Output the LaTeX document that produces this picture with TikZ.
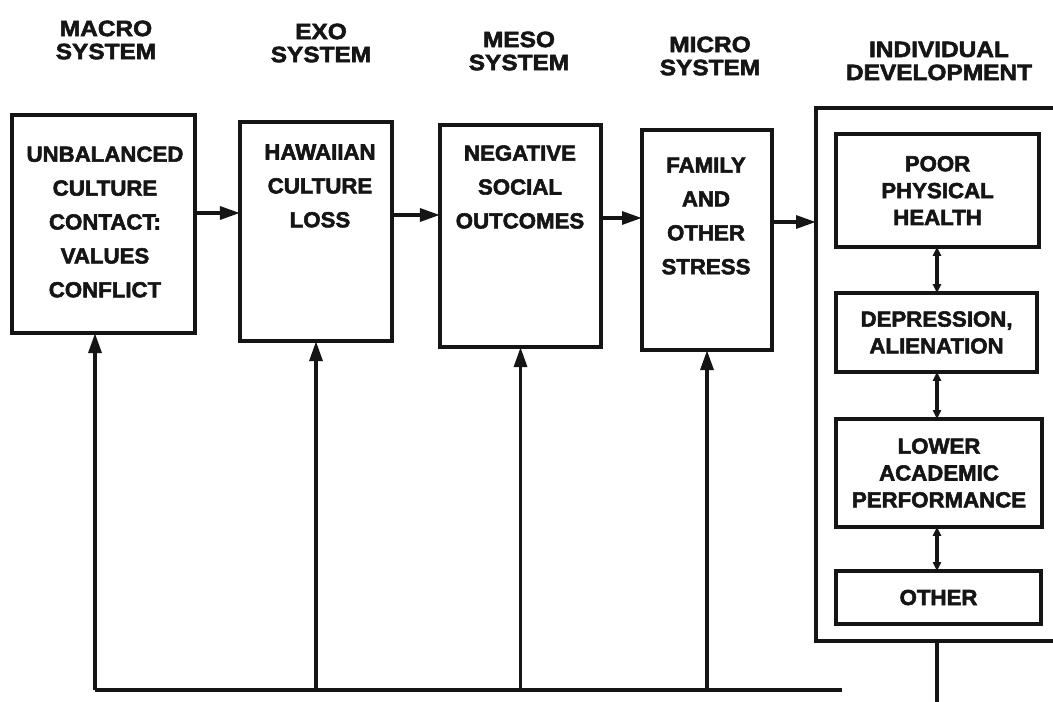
\documentclass[tikz,border=0pt]{standalone}
\usepackage{fontspec}
\usetikzlibrary{arrows.meta,positioning,calc}
\newfontfamily\ecoFont{Liberation Sans}[FakeStretch=1.02,BoldFeatures={FakeBold=2.5}]
\newfontfamily\ecoHeadFont{Liberation Sans}[FakeStretch=1.1,BoldFeatures={FakeBold=2.5}]
\definecolor{ecoInk}{HTML}{151515}
\tikzset{
  eco/box/.style={draw=ecoInk, line width=2.6pt, inner sep=0pt, outer sep=0pt,
    anchor=north west},
  eco/boxtext/.style={font=\ecoFont\bfseries\fontsize{15.5}{24.1}\selectfont,
    text=ecoInk, align=center, inner sep=0pt},
  eco/subtext/.style={font=\ecoFont\bfseries\fontsize{15.5}{19.1}\selectfont,
    text=ecoInk, align=center},
  eco/heading/.style={font=\ecoHeadFont\bfseries\fontsize{15.8}{16.4}\selectfont,
    text=ecoInk, align=center, inner sep=0pt},
  eco/line/.style={draw=ecoInk, line width=2.6pt},
  eco/arrow/.style={eco/line, -{Triangle[length=5mm,width=3.2mm]}},
  eco/both/.style={eco/line, line width=2.2pt,
    {Triangle[length=2.2mm,width=2mm]}-{Triangle[length=2.2mm,width=2mm]}},
}

\begin{document}
\begin{tikzpicture}[x=0.025cm, y=-0.025cm]
\useasboundingbox (0,0) rectangle (1053,702);
\clip (0,0) rectangle (1053,702);

% column headings
\node[eco/heading] (hMacro) at (106,40) {MACRO\\SYSTEM};
\node[eco/heading] (hExo) at (321,43) {EXO\\SYSTEM};
\node[eco/heading] (hMeso) at (519,51) {MESO\\SYSTEM};
\node[eco/heading] (hMicro) at (710,56) {MICRO\\SYSTEM};
\node[eco/heading] (hIndiv) at (939,61) {INDIVIDUAL\\DEVELOPMENT};

% system boxes
\node[eco/box, minimum width=4.575cm, minimum height=5.45cm] (macro) at (12,115) {};
\node[eco/box, minimum width=3.8cm, minimum height=5.475cm] (exo) at (240,122) {};
\node[eco/box, minimum width=4.025cm, minimum height=5.55cm] (meso) at (440,125) {};
\node[eco/box, minimum width=3.25cm, minimum height=5.5cm] (micro) at (642,130) {};
\node[eco/boxtext] (macroText) at (105,222) {UNBALANCED\\CULTURE\\CONTACT:\\VALUES\\CONFLICT};
\node[eco/boxtext] (exoText) at (320,186) {HAWAIIAN\\CULTURE\\LOSS};
\node[eco/boxtext] (mesoText) at (520,187) {NEGATIVE\\SOCIAL\\OUTCOMES};
\node[eco/boxtext] (microText) at (706,216) {FAMILY\\AND\\OTHER\\STRESS};

% individual development
\node[eco/box, minimum width=6.5cm, minimum height=13.325cm] (indiv) at (816,108) {};
\node[eco/box, eco/subtext, minimum width=5.075cm, minimum height=2.825cm] (poor) at (836,134)
  {POOR\\PHYSICAL\\HEALTH};
\node[eco/box, eco/subtext, minimum width=5.025cm, minimum height=1.975cm] (dep) at (836,293)
  {DEPRESSION,\\ALIENATION};
\node[eco/box, eco/subtext, minimum width=5.15cm, minimum height=2.7cm] (lower) at (836,419)
  {LOWER\\ACADEMIC\\PERFORMANCE};
\node[eco/box, eco/subtext, minimum width=5.125cm, minimum height=1.325cm] (other) at (836,571)
  {OTHER};

% forward chain
\draw[eco/arrow] (macro.east |- 0,213) -- (exo.west |- 0,213);
\draw[eco/arrow] (exo.east |- 0,215) -- (meso.west |- 0,215);
\draw[eco/arrow] (meso.east |- 0,218) -- (micro.west |- 0,218);
\draw[eco/arrow] (micro.east |- 0,222) -- (indiv.west |- 0,222);

% feedback
\coordinate (fbL) at (95,690);
\coordinate (fbR) at (842,690);
\coordinate (fbD) at (937,702);
\draw[eco/line] (fbR) -- (fbL);
\draw[eco/arrow] (fbL) -- (fbL |- macro.south);
\foreach \n in {exo,meso,micro}
  \draw[eco/arrow] (\n.south |- fbL) -- (\n.south);
\draw[eco/line] (indiv.south -| fbD) -- (fbD);

\draw[eco/both] (poor.south -| fbD) -- (dep.north -| fbD);
\draw[eco/both] (dep.south -| fbD) -- (lower.north -| fbD);
\draw[eco/both] (lower.south -| fbD) -- (other.north -| fbD);
\end{tikzpicture}
\end{document}
